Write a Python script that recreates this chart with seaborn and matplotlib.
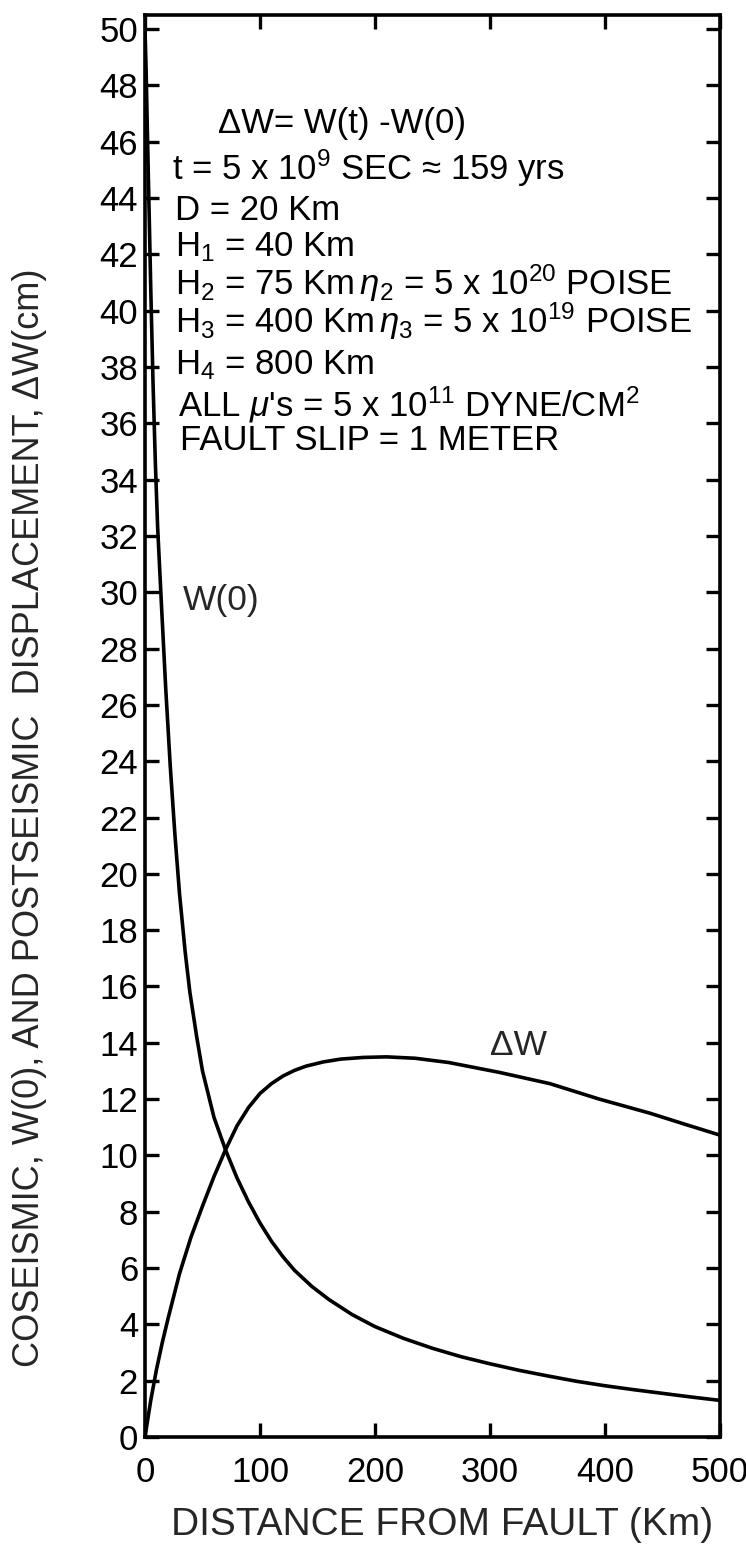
import numpy as np
import pandas as pd
import matplotlib
matplotlib.use("Agg")
import matplotlib.pyplot as plt
import seaborn as sns

# ---- data ----
w0_x = [0, 1, 2, 3, 5, 7, 9, 11, 14, 18, 22, 26, 30, 35, 39, 45, 50, 60, 70, 80, 90, 100,
        110, 120, 130, 145, 160, 180, 200, 225, 250, 275, 300, 325, 350, 375, 400, 425,
        450, 475, 500]
w0_y = [50, 48.5, 46.5, 44.6, 40.8, 37.4, 34.6, 32.3, 29.8, 26.6, 23.8, 21.4, 19.3, 17.2,
        15.8, 14.2, 13.0, 11.35, 10.2, 9.2, 8.35, 7.6, 6.95, 6.4, 5.92, 5.35, 4.88, 4.35,
        3.92, 3.5, 3.15, 2.85, 2.6, 2.37, 2.17, 1.98, 1.82, 1.68, 1.55, 1.42, 1.3]

dw_x = [0, 5, 10, 15, 20, 30, 40, 50, 60, 70, 80, 90, 100, 110, 120, 130, 140, 155, 170,
        190, 210, 235, 264, 308, 352, 395, 439, 470, 500]
dw_y = [0, 1.3, 2.4, 3.35, 4.2, 5.8, 7.1, 8.2, 9.25, 10.2, 11.05, 11.7, 12.2, 12.55, 12.82,
        13.02, 13.17, 13.32, 13.42, 13.48, 13.5, 13.45, 13.3, 12.95, 12.55, 12.0, 11.5,
        11.1, 10.72]

x_ticks = [0, 100, 200, 300, 400, 500]
y_ticks = list(range(0, 51, 2))

x_label = "DISTANCE FROM FAULT (Km)"
y_label = "COSEISMIC, W(0), AND POSTSEISMIC  DISPLACEMENT, \u0394W(cm)"

info_lines = [
    "\u0394W= W(t) -W(0)",
    "t = 5 x 10$^{9}$ SEC \u2248 159 yrs",
    "D = 20 Km",
    "H$_{1}$ = 40 Km",
    "H$_{2}$ = 75 Km$\\,\\eta_{2}$ = 5 x 10$^{20}$ POISE",
    "H$_{3}$ = 400 Km$\\,\\eta_{3}$ = 5 x 10$^{19}$ POISE",
    "H$_{4}$ = 800 Km",
    "ALL $\\mu$'s = 5 x 10$^{11}$ DYNE/CM$^{2}$",
    "FAULT SLIP = 1 METER",
]

# ---- style ----
sns.set_theme(style="ticks")
plt.rcParams['font.family'] = ['Liberation Sans', 'DejaVu Sans']
plt.rcParams['mathtext.fontset'] = 'custom'
plt.rcParams['mathtext.rm'] = 'Liberation Sans'
plt.rcParams['mathtext.it'] = 'Liberation Sans:italic'
plt.rcParams['mathtext.bf'] = 'Liberation Sans:bold'

W, H = 746, 1552
fig = plt.figure(figsize=(W / 100, H / 100), dpi=100)
ax = fig.add_axes([145 / W, 1 - 1437 / H, (720 - 145) / W, (1437 - 15) / H])

df_w0 = pd.DataFrame({"x": w0_x, "y": w0_y})
df_dw = pd.DataFrame({"x": dw_x, "y": dw_y})
sns.lineplot(data=df_w0, x="x", y="y", ax=ax, color="black", linewidth=2.6, sort=False)
sns.lineplot(data=df_dw, x="x", y="y", ax=ax, color="black", linewidth=2.6, sort=False)

ax.set_xlim(0, 500)
ax.set_ylim(0, 50.5)
ax.set_xticks(x_ticks)
ax.set_yticks(y_ticks)
ax.set_xticklabels([str(v) for v in x_ticks])
ax.set_yticklabels([str(v) for v in y_ticks])
ax.set_xlabel("")
ax.set_ylabel("")

for s in ax.spines.values():
    s.set_linewidth(2.6)
    s.set_color("black")
    s.set_visible(True)

ax.tick_params(axis="both", which="major", direction="in", length=10, width=2.4,
               colors="black", top=True, right=True, labelsize=25)
ax.tick_params(axis="x", pad=14)
ax.tick_params(axis="y", pad=5)

fig.text(442 / W, 1 - 1525 / H, x_label, fontsize=28, ha="center", va="center")
fig.text(30 / W, 1 - 818 / H, y_label, fontsize=26, ha="center", va="center",
         rotation=90)

# annotation block
line_y = [123, 168, 210, 247, 283, 321, 365, 405, 440]
line_x = [218, 172, 175, 175, 175, 175, 175, 178, 180]
for t, px, py in zip(info_lines, line_x, line_y):
    fig.text(px / W, 1 - py / H, t, fontsize=25, ha="left", va="center", color="black")

ax.text(33, 29.7, "W(0)", fontsize=25.5, ha="left", va="center")
ax.text(300, 13.9, "\u0394W", fontsize=25.5, ha="left", va="center")

fig.savefig("out.png", dpi=100, facecolor="white")
